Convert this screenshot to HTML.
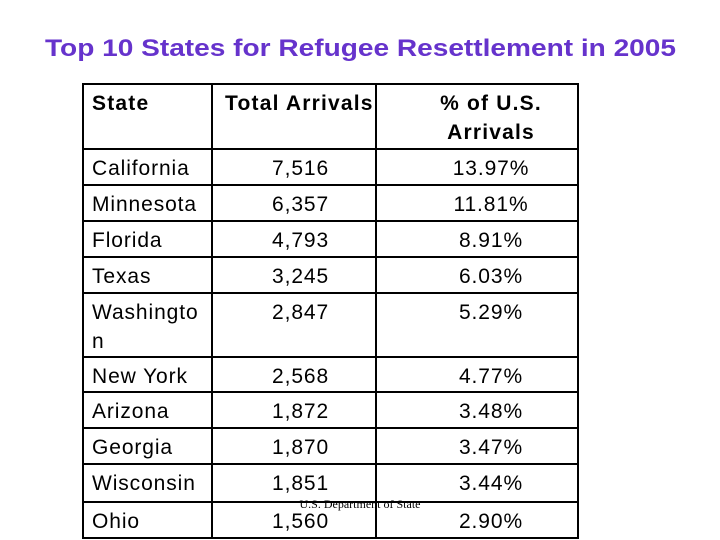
<!DOCTYPE html>
<html><head><meta charset="utf-8"><style>
body{margin:0;background:#fff;}
svg{display:block;font-family:"Liberation Sans",Arial,sans-serif;}
</style></head><body>
<svg width="720" height="540">
<text x="45" y="56" textLength="631" lengthAdjust="spacingAndGlyphs" font-size="24" font-weight="bold" fill="#6633cc">Top 10 States for Refugee Resettlement in 2005</text>
<g stroke="#000" stroke-width="2" fill="none">
<rect x="83" y="84" width="495" height="454"/>
<line x1="212" y1="84" x2="212" y2="538"/>
<line x1="376" y1="84" x2="376" y2="538"/>
<g id="hlines"></g>
</g>
<g font-size="21" font-weight="bold" letter-spacing="1.2">
<text x="92" y="110">State</text>
<text x="225" y="110">Total Arrivals</text>
<text x="491" y="110" text-anchor="middle">% of U.S.</text>
<text x="491" y="139" text-anchor="middle">Arrivals</text>
</g>
<g id="rows" font-size="21" letter-spacing="0.9"></g>
<text x="360" y="508" text-anchor="middle" font-size="12" font-family="Liberation Serif,serif">U.S. Department of State</text>
</svg>
<script>
const states=["California","Minnesota","Florida","Texas","Washingto","New York","Arizona","Georgia","Wisconsin","Ohio"];
const arrivals=["7,516","6,357","4,793","3,245","2,847","2,568","1,872","1,870","1,851","1,560"];
const percents=["13.97%","11.81%","8.91%","6.03%","5.29%","4.77%","3.48%","3.47%","3.44%","2.90%"];
const rowBottoms=[185,221,257,293,357,392,428,464,502];
const ns="http://www.w3.org/2000/svg";
const hl=document.getElementById('hlines');
[149].concat(rowBottoms).forEach(y=>{const l=document.createElementNS(ns,'line');l.setAttribute('x1',83);l.setAttribute('x2',578);l.setAttribute('y1',y);l.setAttribute('y2',y);


hl.appendChild(l);});
const tops=[149].concat(rowBottoms);
const g=document.getElementById('rows');
function t(x,y,s,anchor,name){const e=document.createElementNS(ns,'text');e.setAttribute('x',x);e.setAttribute('y',y);if(anchor)e.setAttribute('text-anchor',anchor);e.textContent=s;


g.appendChild(e);}
states.forEach((s,i)=>{const y=tops[i]+26;
t(92,y,s,null,'state-cell');
if(i===4)t(92,y+29,'n',null,'state-cell-wrap');
t(272,y,arrivals[i],null,'arrivals-cell');
t(491,y,percents[i],'middle','percent-cell');});
</script>
</body></html>
